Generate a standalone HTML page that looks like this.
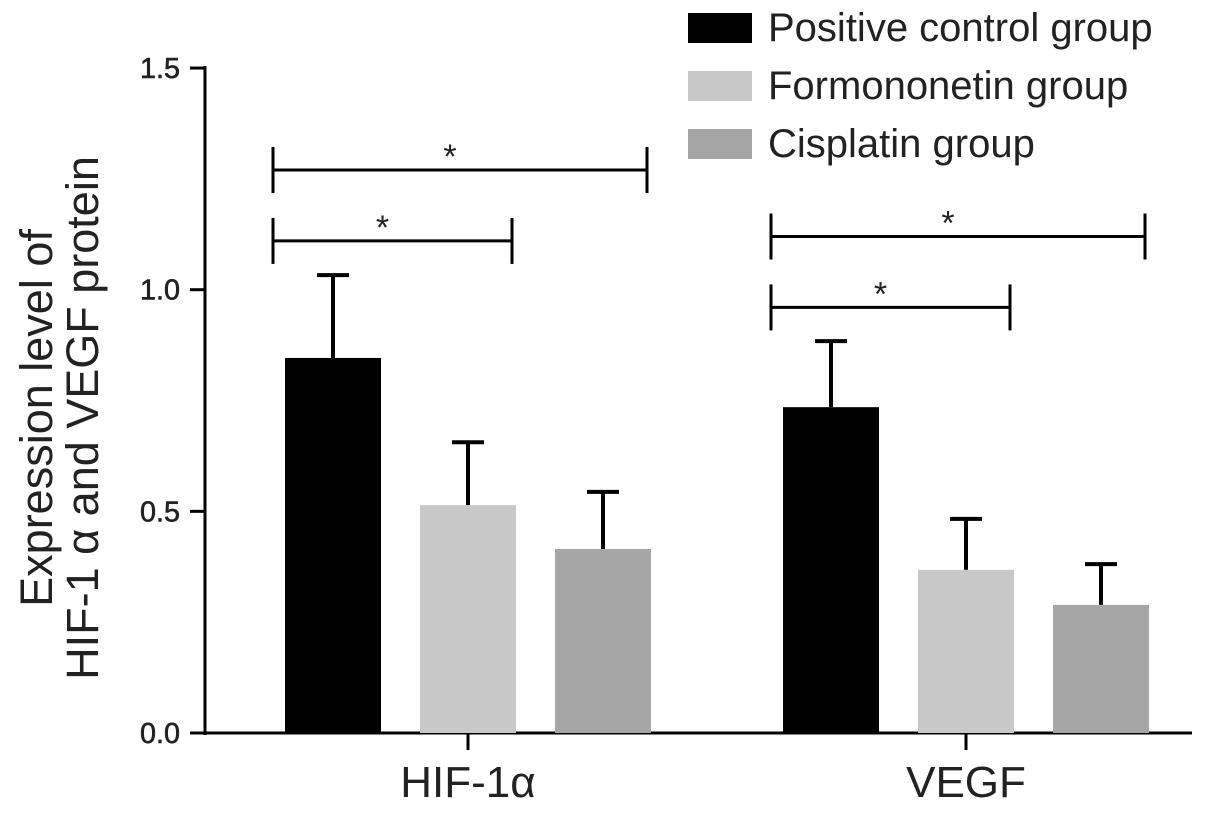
<!DOCTYPE html>
<html><head><meta charset="utf-8"><style>
body{margin:0;background:#fff;}
svg{display:block;font-family:"Liberation Sans",Arial,sans-serif;}
</style></head><body>
<svg id="chart" width="1205" height="834" viewBox="0 0 1205 834"></svg>
<script>
const categories=["HIF-1α","VEGF"];
const seriesNames=["Positive control group","Formononetin group","Cisplatin group"];
const meanValues=[[0.846,0.735],[0.514,0.368],[0.415,0.289]];
const errValues=[[1.033,0.884],[0.656,0.483],[0.544,0.381]];
const yTicks=[0,0.5,1.0,1.5];
const yTickLabels=["0.0","0.5","1.0","1.5"];
const sigPairs=[[0,0,2,1.27],[0,0,1,1.11],[1,0,2,1.12],[1,0,1,0.96]];
const colors=["#000000","#c8c8c8","#a6a6a6"];
const NS="http://www.w3.org/2000/svg";
const svg=document.getElementById('chart');
function y(v){return 733-v*443.3;}
const groupStart=[285,783],barW=96,barStep=135;
function bx(g,s){return groupStart[g]+s*barStep;}
function mk(t,a,p){const e=document.createElementNS(NS,t);for(const k in a)e.setAttribute(k,a[k]);(p||svg).appendChild(e);return e;}
let e=mk('line',{x1:205,y1:66,x2:205,y2:735,stroke:'#000','stroke-width':3});

e=mk('line',{x1:204,y1:733,x2:1192,y2:733,stroke:'#000','stroke-width':3});

yTicks.forEach((t,i)=>{
 let l=mk('line',{x1:190,y1:y(t),x2:205,y2:y(t),stroke:'#000','stroke-width':3});
 
 let tx=mk('text',{x:180,y:y(t)+10,'text-anchor':'end','font-size':29,fill:'#222',stroke:'#222','stroke-width':0.6,textLength:40,lengthAdjust:'spacingAndGlyphs'});tx.textContent=yTickLabels[i];
 
});
categories.forEach((c,g)=>{
 const cx=bx(g,1)+barW/2;
 let l=mk('line',{x1:cx,y1:733,x2:cx,y2:750,stroke:'#000','stroke-width':3});
 
 let tx=mk('text',{x:cx,y:797,'text-anchor':'middle','font-size':44,fill:'#222'});tx.textContent=c;
 
 seriesNames.forEach((s,si)=>{
  const x=bx(g,si),v=meanValues[si][g],ev=errValues[si][g],mx=x+barW/2;
  let el=mk('line',{x1:mx,y1:y(v),x2:mx,y2:y(ev),stroke:'#000','stroke-width':4});
  
  el=mk('line',{x1:mx-16,y1:y(ev),x2:mx+16,y2:y(ev),stroke:'#000','stroke-width':4});
  
  let r=mk('rect',{x:x,y:y(v),width:barW,height:733-y(v),fill:colors[si]});
  
 });
});
sigPairs.forEach(p=>{
 const [g,a,b,v]=p;const x1=bx(g,a)-12,x2=bx(g,b)+barW-4,yy=y(v);
 const gr=mk('g',{stroke:'#000','stroke-width':3});
 
 mk('line',{x1:x1,y1:yy,x2:x2,y2:yy},gr);
 mk('line',{x1:x1,y1:yy-23,x2:x1,y2:yy+23},gr);
 mk('line',{x1:x2,y1:yy-23,x2:x2,y2:yy+23},gr);
 let t=mk('text',{x:(x1+x2)/2-10,y:yy-2,'text-anchor':'middle','font-size':34,fill:'#222'});t.textContent='*';
 
});
seriesNames.forEach((s,i)=>{
 const gy=13+i*58;
 const g=mk('g',{});
 
 mk('rect',{x:688,y:gy,width:64,height:30,fill:colors[i]},g);
 let t=mk('text',{x:768,y:gy+28,'font-size':40,fill:'#222'},g);t.textContent=s;
});
const yl=mk('text',{transform:'translate(52,418) rotate(-90)','text-anchor':'middle','font-size':45,fill:'#222'});

const t1=mk('tspan',{x:0,y:0},yl);t1.textContent='Expression level of';
const t2=mk('tspan',{x:0,y:46},yl);t2.textContent='HIF-1 α and VEGF protein';
</script>
</body></html>
